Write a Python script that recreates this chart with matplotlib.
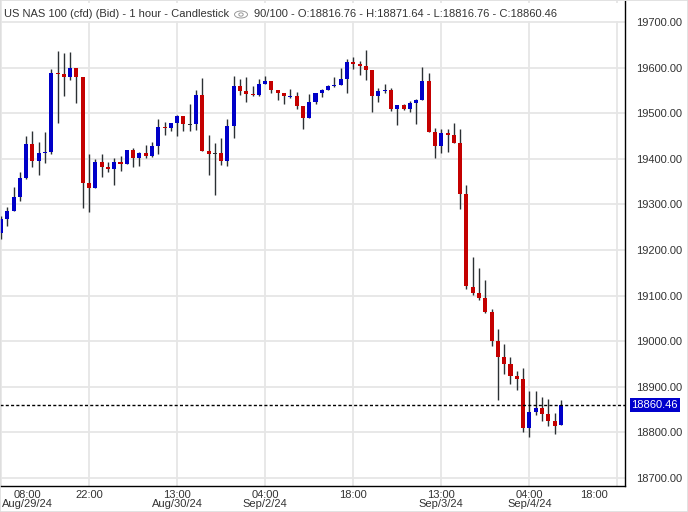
#!/usr/bin/env python
"""
Hourly candlestick chart of US NAS 100 (cfd), Aug 29 - Sep 4 2024
"""
import matplotlib
matplotlib.use("Agg")
import matplotlib.pyplot as plt
from matplotlib.patches import Ellipse, Circle, Rectangle
import numpy as np

plt.rcParams['font.family'] = ['Liberation Sans', 'DejaVu Sans']

# hourly bars
opens = [19238, 19269, 19286, 19317, 19358, 19432, 19396, 19413, 19415, 19588,
         19586, 19580, 19599, 19579, 19347, 19337, 19393, 19382, 19378, 19393,
         19389, 19419, 19402, 19412, 19407, 19429, 19470, 19468, 19479, 19494,
         19476, 19477, 19540, 19417, 19412, 19413, 19396, 19472, 19560, 19549,
         19543, 19540, 19564, 19571, 19551, 19544, 19536, 19538, 19516, 19489,
         19525, 19544, 19551, 19560, 19562, 19575, 19612, 19608, 19603, 19595,
         19538, 19549, 19551, 19509, 19518, 19509, 19522, 19529, 19571, 19459,
         19427, 19456, 19452, 19435, 19323, 19119, 19106, 19095, 19064, 19000,
         18966, 18950, 18924, 18917, 18810, 18845, 18853, 18840, 18825, 18816.76]
highs = [19275, 19295, 19338, 19371, 19449, 19461, 19437, 19459, 19597, 19636,
         19633, 19634, 19599, 19579, 19410, 19400, 19410, 19393, 19402, 19406,
         19419, 19424, 19414, 19430, 19437, 19487, 19481, 19479, 19495, 19494,
         19520, 19551, 19578, 19452, 19434, 19446, 19487, 19582, 19575, 19579,
         19560, 19575, 19582, 19571, 19551, 19544, 19553, 19547, 19516, 19542,
         19544, 19553, 19562, 19579, 19599, 19619, 19623, 19614, 19639, 19595,
         19555, 19564, 19555, 19518, 19520, 19527, 19531, 19601, 19588, 19468,
         19466, 19465, 19478, 19465, 19343, 19185, 19160, 19134, 19071, 19027,
         18994, 18965, 18935, 18941, 18891, 18891, 18878, 18873, 18842, 18871.64]
lows = [19225, 19253, 19286, 19308, 19356, 19383, 19365, 19391, 19411, 19479,
        19538, 19573, 19523, 19293, 19284, 19337, 19359, 19372, 19343, 19374,
        19388, 19383, 19385, 19402, 19403, 19411, 19453, 19460, 19449, 19462,
        19460, 19463, 19418, 19364, 19321, 19386, 19384, 19446, 19541, 19525,
        19538, 19538, 19564, 19545, 19529, 19520, 19533, 19509, 19465, 19489,
        19520, 19536, 19551, 19557, 19562, 19544, 19597, 19584, 19573, 19503,
        19525, 19545, 19505, 19475, 19507, 19503, 19477, 19529, 19459, 19402,
        19413, 19415, 19435, 19290, 19115, 19102, 19090, 19062, 18990, 18870,
        18927, 18907, 18894, 18801, 18789, 18838, 18825, 18814, 18796, 18816.76]
closes = [19268, 19285, 19316, 19358, 19432, 19396, 19413, 19415, 19588, 19586,
          19580, 19599, 19580, 19348, 19337, 19393, 19383, 19378, 19393, 19389,
          19419, 19402, 19412, 19407, 19428, 19470, 19468, 19479, 19494, 19477,
          19476, 19540, 19418, 19411, 19412, 19396, 19472, 19560, 19549, 19543,
          19541, 19564, 19571, 19551, 19544, 19538, 19538, 19516, 19489, 19525,
          19544, 19551, 19560, 19562, 19575, 19612, 19608, 19603, 19595, 19538,
          19549, 19551, 19509, 19518, 19509, 19522, 19529, 19571, 19459, 19427,
          19456, 19452, 19435, 19323, 19120, 19106, 19095, 19064, 19001, 18966,
          18951, 18924, 18918, 18810, 18845, 18853, 18840, 18825, 18814, 18860.46]

# time axis labels (every 14 bars)
tick_bars = [0, 14, 28, 42, 56, 70, 84, 98]
tick_labels = ["08:00\nAug/29/24", "22:00", "13:00\nAug/30/24", "04:00\nSep/2/24",
               "18:00", "13:00\nSep/3/24", "04:00\nSep/4/24", "18:00"]
price_ticks = np.arange(18700, 19701, 100)
last_price = 18860.46
title_left = "US NAS 100 (cfd) (Bid) - 1 hour - Candlestick"
title_right = "90/100 - O:18816.76 - H:18871.64 - L:18816.76 - C:18860.46"

BLUE = "#0000c8"
RED = "#c40000"
WICK = "#2b3033"
TEXT = "#333333"
FS = 8
W, H = 688, 512

fig = plt.figure(figsize=(W / 100, H / 100), dpi=100)
ax = fig.add_axes([0, 1 - 486 / H, 625 / W, 485 / H])

x = np.arange(len(opens))
o = np.array(opens)
c = np.array(closes)
colors = [BLUE if cc > oo else (RED if cc < oo else WICK) for oo, cc in zip(o, c)]

# wicks then bodies
ax.vlines(x, lows, highs, color=WICK, lw=1.0, zorder=2)
body_h = np.maximum(np.abs(c - o), 1.6)
body_b = np.minimum(o, c) - np.where(np.abs(c - o) < 1.6, 0.8, 0)
ax.bar(x, body_h, bottom=body_b, width=0.64, color=colors, linewidth=0, zorder=3)

ax.axhline(last_price, color="black", lw=1.0, ls=(0, (2.2, 1.6)), zorder=4)

ax.set_xlim(-1 / 6.29, 624 / 6.29)
ax.set_ylim(19700 - 464 * 2.193, 19700 + 21 * 2.193)

ax.set_xticks(tick_bars)
ax.set_xticklabels([])
ax.set_yticks(price_ticks)
ax.set_yticklabels(["%.2f" % p for p in price_ticks])
ax.yaxis.tick_right()
ax.tick_params(axis="y", length=0, pad=8, labelsize=FS, labelcolor=TEXT)
ax.tick_params(axis="x", length=0)
ax.grid(True, color="#e6e6e6", lw=1.3, zorder=0)
ax.set_axisbelow(True)

for side in ["top", "left"]:
    ax.spines[side].set_visible(False)
for side in ["right", "bottom"]:
    ax.spines[side].set_color("black")
    ax.spines[side].set_linewidth(1.0)

# time labels under the axis
trans = ax.get_xaxis_transform()
for bar, lab in zip(tick_bars, tick_labels):
    ha = "center"
    xpos = bar
    if bar == tick_bars[0]:
        ha, xpos = "left", 0.2
    elif bar == tick_bars[-1]:
        xpos = bar - 3.7
    ax.text(xpos, -0.008, lab, transform=trans, ha=ha, va="top",
            multialignment="center", fontsize=FS, color=TEXT, linespacing=0.92)

# last price box on the right axis
ax.text(1.0105, last_price, "%.2f" % last_price, transform=ax.get_yaxis_transform(),
        ha="left", va="center", fontsize=FS, color="white",
        bbox=dict(boxstyle="square,pad=0.18", fc="#0000cc", ec="none"), zorder=5)

# header line
def px(xp, yp):
    return xp / W, 1 - yp / H

fig.patches.append(Rectangle(px(2, 21), 620 / W, 18 / H, transform=fig.transFigure,
                             fc="white", ec="none", zorder=5))
fig.text(*px(4, 14), title_left, fontsize=FS, color=TEXT, va="center", ha="left", zorder=6)
fig.text(*px(254, 14), title_right, fontsize=FS, color=TEXT, va="center", ha="left", zorder=6)
fig.patches.append(Ellipse(px(241, 14.5), 13 / W, 7 / H, transform=fig.transFigure,
                           fc="none", ec="#9a9a9a", lw=0.7, zorder=6))
fig.patches.append(Circle(px(241, 14.5), 2.2 / W, transform=fig.transFigure,
                          fc="none", ec="#9a9a9a", lw=0.7, zorder=6))

# faint outer border
fig.patches.append(Rectangle((0, 0), 1, 1, transform=fig.transFigure,
                             fc="none", ec="#dddddd", lw=1.2, zorder=0))

fig.savefig("out.png", dpi=100)
